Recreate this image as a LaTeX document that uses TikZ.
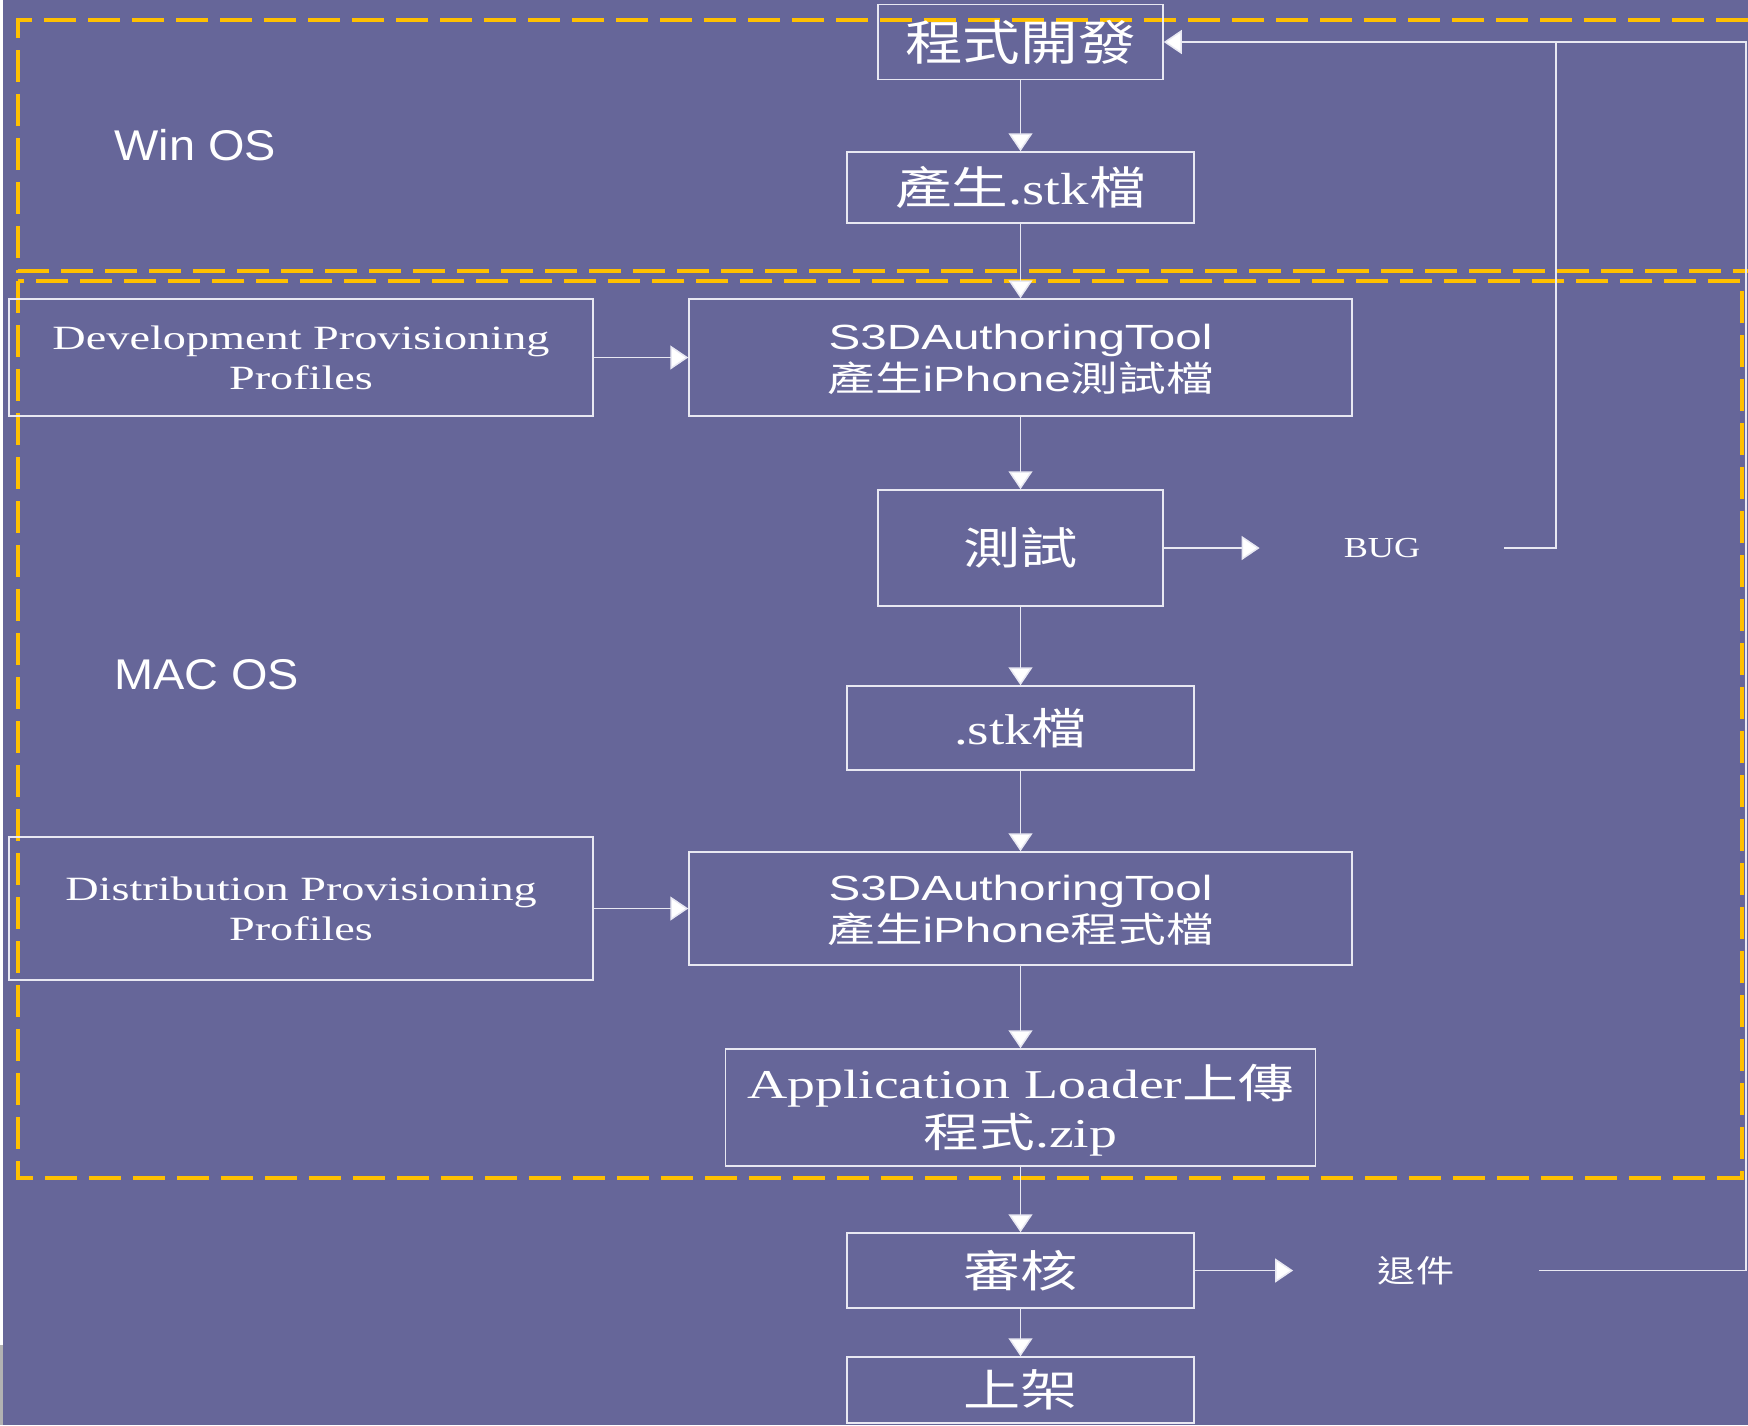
\documentclass[tikz,border=0pt]{standalone}
\usepackage{fontspec}
\usepackage{xcolor}
\usepackage{graphicx}
\usetikzlibrary{arrows.meta}
\setmainfont{Liberation Serif}
\setsansfont{Liberation Sans}
\newfontfamily\cjk{Noto Sans CJK TC}
\definecolor{slide}{RGB}{102,102,153}
\definecolor{frameY}{RGB}{255,192,0}
\definecolor{edge}{RGB}{232,232,242}
\newcommand{\wide}[2]{\scalebox{#1}[1]{#2}}
\newcommand{\fsz}[2]{\fontsize{#1}{#2}\selectfont}

\begin{document}
\begin{tikzpicture}[x=0.5pt,y=-0.5pt,
		box/.style={draw=edge, line width=0.75pt, inner sep=0pt, text=white},
		flag/.style={inner sep=0pt, text=white},
		flow/.style={draw=edge, line width=0.75pt, -{Triangle[length=9pt,width=12pt,fill=white]}},
		wire/.style={draw=edge, line width=0.75pt},
		osframe/.style={draw=frameY, line width=1.75pt, dash pattern=on 16pt off 6pt},
		oslabel/.style={anchor=west, inner sep=0pt, text=white, font=\sffamily\fsz{21.5}{26}}]
		% Parameters
		\def\px{0.5pt}
		\def\cx{1020.5}
		\def\lx{301}
		
		\useasboundingbox (0,0) rectangle (1748,1425);
		\fill[slide] (0,0) rectangle (1748,1425);
		\fill[white] (0,0) rectangle (3,1345);
		\fill[gray!60] (0,1345) rectangle (3,1425);
		
		%frames
		\draw[osframe] (1748,20) -- (18,20) -- (18,271) -- (1748,271);
		\draw[osframe] (18,281) rectangle (1742,1178);
		\node[oslabel] (win) at (114,145) {\wide{1.09}{Win OS}};
		\node[oslabel] (mac) at (114,675) {\wide{1.09}{MAC OS}};
		
		%blocks
		\node[box, minimum width=285*\px, minimum height=75*\px] (dev) at (\cx,42)
		{\wide{1.2}{\cjk\fsz{24}{28}程式開發}};
		\node[box, minimum width=347*\px, minimum height=71*\px] (genstk) at (\cx,187.5)
		{\wide{1.26}{\fsz{22.5}{27}{\cjk 產生}.stk{\cjk 檔}}};
		\node[box, minimum width=584*\px, minimum height=117*\px] (devprof) at (\lx,357.5)
		{\raisebox{-6.5pt}[0pt][0pt]{\wide{1.36}{\fsz{17}{20}\begin{tabular}{@{}c@{}}Development Provisioning\\Profiles\end{tabular}}}};
		\node[box, minimum width=663*\px, minimum height=117*\px] (tooltest) at (\cx,357.5)
		{\raisebox{-6.6pt}[0pt][0pt]{\wide{1.36}{\fsz{17.5}{21}\begin{tabular}{@{}c@{}}\sffamily S3DAuthoringTool\\{\cjk 產生}{\sffamily iPhone}{\cjk 測試檔}\end{tabular}}}};
		\node[box, minimum width=285*\px, minimum height=116*\px] (test) at (\cx,548)
		{\wide{1.3}{\cjk\fsz{22}{26}測試}};
		\node[flag, minimum width=244*\px] (bug) at (1382,548)
		{\wide{1.25}{\fsz{14.5}{18}BUG}};
		\node[box, minimum width=347*\px, minimum height=84*\px] (stk) at (\cx,728)
		{\wide{1.28}{\fsz{21.5}{26}.stk{\cjk 檔}}};
		\node[box, minimum width=584*\px, minimum height=143*\px] (distprof) at (\lx,908.5)
		{\raisebox{-6.5pt}[0pt][0pt]{\wide{1.36}{\fsz{17}{20}\begin{tabular}{@{}c@{}}Distribution Provisioning\\Profiles\end{tabular}}}};
		\node[box, minimum width=663*\px, minimum height=113*\px] (toolapp) at (\cx,908.5)
		{\raisebox{-6.6pt}[0pt][0pt]{\wide{1.36}{\fsz{17.5}{21}\begin{tabular}{@{}c@{}}\sffamily S3DAuthoringTool\\{\cjk 產生}{\sffamily iPhone}{\cjk 程式檔}\end{tabular}}}};
		\node[box, minimum width=590*\px, minimum height=117*\px] (loader) at (\cx,1107.5)
		{\raisebox{-7.9pt}[0pt][0pt]{\wide{1.36}{\fsz{20.5}{24.5}\begin{tabular}{@{}c@{}}Application Loader{\cjk 上傳}\\{\cjk 程式}.zip\end{tabular}}}};
		\node[box, minimum width=347*\px, minimum height=75*\px] (review) at (\cx,1270.5)
		{\wide{1.3}{\cjk\fsz{22}{26}審核}};
		\node[flag, minimum width=245*\px] (reject) at (1416,1270.5)
		{\wide{1.23}{\cjk\fsz{15.5}{19}退件}};
		\node[box, minimum width=347*\px, minimum height=66*\px] (publish) at (\cx,1390)
		{\wide{1.3}{\cjk\fsz{22}{26}上架}};
		
		%nets
		\coordinate (bugtop) at (1556,42);
		\coordinate (rejtop) at (1746,42);
		\draw[flow] (dev) -- (genstk);
		\draw[flow] (genstk) -- (tooltest);
		\draw[flow] (devprof) -- (tooltest);
		\draw[flow] (tooltest) -- (test);
		\draw[flow] (test) -- (bug);
		\draw[flow] (test) -- (stk);
		\draw[flow] (stk) -- (toolapp);
		\draw[flow] (distprof) -- (toolapp);
		\draw[flow] (toolapp) -- (loader);
		\draw[flow] (loader) -- (review);
		\draw[flow] (review) -- (reject);
		\draw[flow] (review) -- (publish);
		
		%feedback
		\draw[wire] (bug.east) -| (bugtop);
		\draw[flow] (reject.east) -| (rejtop) -- (dev.east);
\end{tikzpicture}
\end{document}
